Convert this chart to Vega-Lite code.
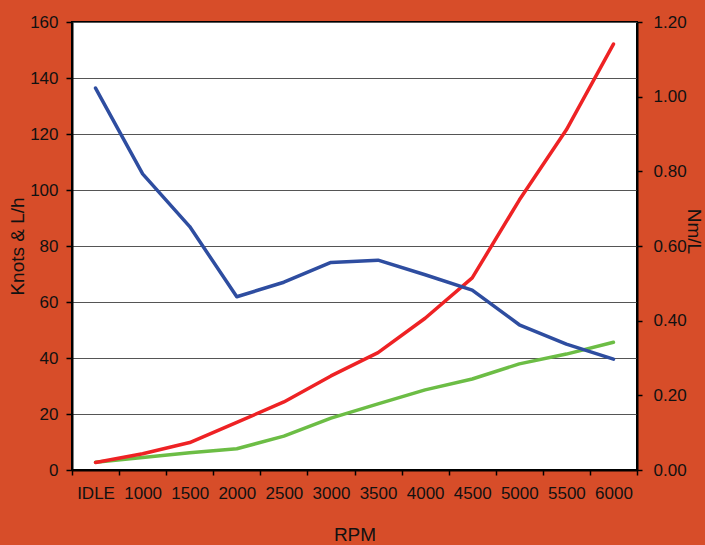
{
  "$schema": "https://vega.github.io/schema/vega-lite/v6.json",
  "width": 565,
  "height": 448,
  "autosize": {"type": "none"},
  "padding": {"left": 72, "top": 22, "right": 68, "bottom": 75},
  "background": "#D74D29",
  "config": {
    "view": {"stroke": "#000000", "strokeWidth": 2, "fill": "#ffffff"},
    "font": "Liberation Sans",
    "axis": {
      "labelFont": "Liberation Sans",
      "titleFont": "Liberation Sans",
      "labelColor": "#111111",
      "titleColor": "#111111",
      "labelFontSize": 17,
      "titleFontSize": 19,
      "titleFontWeight": "normal",
      "domainColor": "#000000",
      "domainWidth": 2,
      "tickColor": "#000000",
      "tickWidth": 1.5
    }
  },
  "data": {
    "values": [
      {"rpm": "IDLE", "series": "Knots", "value": 2.8},
      {"rpm": "1000", "series": "Knots", "value": 4.5},
      {"rpm": "1500", "series": "Knots", "value": 6.2},
      {"rpm": "2000", "series": "Knots", "value": 7.6},
      {"rpm": "2500", "series": "Knots", "value": 12.1},
      {"rpm": "3000", "series": "Knots", "value": 18.5},
      {"rpm": "3500", "series": "Knots", "value": 23.6},
      {"rpm": "4000", "series": "Knots", "value": 28.6},
      {"rpm": "4500", "series": "Knots", "value": 32.5},
      {"rpm": "5000", "series": "Knots", "value": 37.9},
      {"rpm": "5500", "series": "Knots", "value": 41.4},
      {"rpm": "6000", "series": "Knots", "value": 45.6},
      {"rpm": "IDLE", "series": "L/h", "value": 2.7},
      {"rpm": "1000", "series": "L/h", "value": 5.8},
      {"rpm": "1500", "series": "L/h", "value": 9.8},
      {"rpm": "2000", "series": "L/h", "value": 17.0},
      {"rpm": "2500", "series": "L/h", "value": 24.3},
      {"rpm": "3000", "series": "L/h", "value": 33.6},
      {"rpm": "3500", "series": "L/h", "value": 41.9},
      {"rpm": "4000", "series": "L/h", "value": 54.2},
      {"rpm": "4500", "series": "L/h", "value": 68.6},
      {"rpm": "5000", "series": "L/h", "value": 96.4},
      {"rpm": "5500", "series": "L/h", "value": 121.5},
      {"rpm": "6000", "series": "L/h", "value": 152.1},
      {"rpm": "IDLE", "series": "Nm/L", "value": 1.023},
      {"rpm": "1000", "series": "Nm/L", "value": 0.793},
      {"rpm": "1500", "series": "Nm/L", "value": 0.652},
      {"rpm": "2000", "series": "Nm/L", "value": 0.464},
      {"rpm": "2500", "series": "Nm/L", "value": 0.503},
      {"rpm": "3000", "series": "Nm/L", "value": 0.556},
      {"rpm": "3500", "series": "Nm/L", "value": 0.562},
      {"rpm": "4000", "series": "Nm/L", "value": 0.523},
      {"rpm": "4500", "series": "Nm/L", "value": 0.482},
      {"rpm": "5000", "series": "Nm/L", "value": 0.389},
      {"rpm": "5500", "series": "Nm/L", "value": 0.337},
      {"rpm": "6000", "series": "Nm/L", "value": 0.297}
    ]
  },
  "encoding": {
    "x": {
      "field": "rpm",
      "type": "nominal",
      "bandPosition": 0.5,
      "scale": {
        "type": "band",
        "domain": ["IDLE", "1000", "1500", "2000", "2500", "3000", "3500", "4000", "4500", "5000", "5500", "6000"],
        "paddingInner": 0,
        "paddingOuter": 0
      },
      "axis": {
        "title": "RPM",
        "labelAngle": 0,
        "tickBand": "extent",
        "tickSize": 5,
        "labelPadding": 10,
        "titleY": 70,
        "titleBaseline": "alphabetic",
        "grid": false
      }
    },
    "color": {
      "field": "series",
      "type": "nominal",
      "scale": {"domain": ["Knots", "L/h", "Nm/L"], "range": ["#6CBD45", "#EE2224", "#2E4DA0"]},
      "legend": null
    }
  },
  "layer": [
    {
      "transform": [{"filter": "datum.series !== 'Nm/L'"}],
      "mark": {"type": "line", "strokeWidth": 3.5, "strokeCap": "round", "strokeJoin": "round"},
      "encoding": {
        "y": {
          "field": "value",
          "type": "quantitative",
          "scale": {"domain": [0, 160], "nice": false},
          "axis": {
            "title": "Knots & L/h",
            "values": [0, 20, 40, 60, 80, 100, 120, 140, 160],
            "grid": true,
            "gridColor": "#555555",
            "gridWidth": 1.2,
            "tickSize": 6,
            "labelPadding": 8,
            "titleX": -55,
            "titleY": 224,
            "titleAngle": -90,
            "titleAlign": "center",
            "titleBaseline": "middle"
          }
        }
      }
    },
    {
      "transform": [{"filter": "datum.series === 'Nm/L'"}],
      "mark": {"type": "line", "strokeWidth": 3.5, "strokeCap": "round", "strokeJoin": "round"},
      "encoding": {
        "y": {
          "field": "value",
          "type": "quantitative",
          "scale": {"domain": [0, 1.2], "nice": false},
          "axis": {
            "orient": "right",
            "title": "Nm/L",
            "values": [0, 0.2, 0.4, 0.6, 0.8, 1.0, 1.2],
            "format": ".2f",
            "grid": false,
            "tickSize": 5,
            "labelPadding": 11,
            "titleX": 56,
            "titleY": 209,
            "titleAngle": 90,
            "titleAlign": "center",
            "titleBaseline": "middle"
          }
        }
      }
    }
  ],
  "resolve": {"scale": {"y": "independent"}}
}
